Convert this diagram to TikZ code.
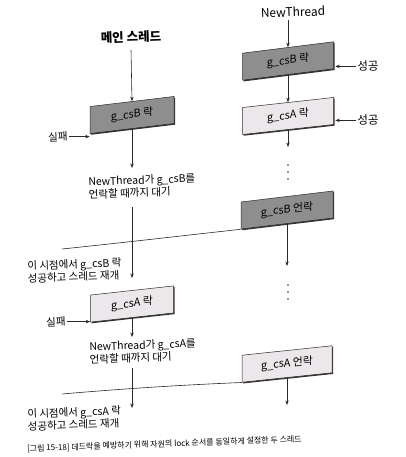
\documentclass[tikz,border=0pt]{standalone}
\usepackage{fontspec}
\setmainfont{Noto Sans CJK KR}
\usetikzlibrary{arrows.meta,shadows}
\definecolor{darkfill}{HTML}{8E8E8E}
\definecolor{lightfill}{HTML}{ECE7EA}
\definecolor{ink}{HTML}{2A2A2A}
\begin{document}
\begin{tikzpicture}[x=1pt,y=1pt,
  line/.style={draw=ink, line width=0.6pt},
  arr/.style={line, -{Stealth[length=4.5pt,width=3.4pt]}},
  lockbox/.style={draw=ink, line width=0.5pt, minimum height=27pt, inner sep=0pt,
     font=\fontsize{10.8}{12}\selectfont, transform shape,
     drop shadow={shadow xshift=1.2pt, shadow yshift=-1.2pt, fill=black!80, opacity=1}},
  darkbox/.style={lockbox, fill=darkfill},
  lightbox/.style={lockbox, fill=lightfill},
  note/.style={font=\fontsize{10.5}{12.5}\selectfont, align=left, inner sep=0pt, anchor=north west, rotate=2},
  side/.style={font=\fontsize{10.5}{12}\selectfont, inner sep=1pt, rotate=2},
  dot/.style={fill=ink},
]
\useasboundingbox (0,0) rectangle (406,-457);
\fill[white] (0,0) rectangle (406,-457);

% titles
\node[font=\fontsize{12.5}{15}\selectfont\bfseries, rotate=2, inner sep=1pt] (main) at (131,-37) {메인 스레드};
\node[font=\fontsize{12}{15}\selectfont, rotate=2, inner sep=1pt] (nt) at (293,-12) {NewThread};

% left boxes
\begin{scope}[shift={(132,-115)}, yslant=0.12]
  \node[darkbox, minimum width=84pt] (lb1) at (0,0) {g\_csB 락};
\end{scope}
\begin{scope}[shift={(132,-304)}, yslant=0.11]
  \node[lightbox, minimum width=83pt] (lb2) at (0,0) {g\_csA 락};
\end{scope}

% right boxes
\begin{scope}[shift={(288,-61)}, yslant=0.125]
  \node[darkbox, minimum width=91pt] (rb1) at (0,0) {g\_csB 락};
\end{scope}
\begin{scope}[shift={(288,-116)}, yslant=0.11]
  \node[lightbox, minimum width=91pt] (rb2) at (0,0) {g\_csA 락};
\end{scope}
\begin{scope}[shift={(287,-210)}, yslant=0.12]
  \node[darkbox, minimum width=92pt] (ru1) at (0,0) {g\_csB 언락};
\end{scope}
\begin{scope}[shift={(287,-364)}, yslant=0.105]
  \node[lightbox, minimum width=90pt] (ru2) at (0,0) {g\_csA 언락};
\end{scope}

% side labels
\node[side] (f1) at (58,-137) {실패};
\node[side] (f2) at (56,-322) {실패};
\node[side, font=\fontsize{11.5}{12}\selectfont] (s1) at (368,-66) {성공};
\node[side, font=\fontsize{11.5}{12}\selectfont] (s2) at (368,-120) {성공};

% notes
\node[note] (w1) at (88,-177) {NewThread가 g\_csB를\\언락할 때까지 대기};
\node[note] (r1) at (27,-261) {이 시점에서 g\_csB 락\\성공하고 스레드 재개};
\node[note] (w2) at (89,-342) {NewThread가 g\_csA를\\언락할 때까지 대기};
\node[note] (r2) at (27,-409) {이 시점에서 g\_csA 락\\성공하고 스레드 재개};

% caption
\node[font=\fontsize{8}{9}\selectfont, anchor=west, inner sep=0pt, rotate=2] (cap) at (27,-449)
  {[그림 15-18] 데드락을 예방하기 위해 자원의 lock 순서를 동일하게 설정한 두 스레드};

% coordinates
\coordinate (m0) at (131,-50);
\coordinate (e1) at (132,-168);
\coordinate (b1) at (132,-207);
\coordinate (e2) at (132,-278);
\coordinate (e3) at (132,-337);
\coordinate (b3) at (132,-368);
\coordinate (e4) at (132,-408);
\coordinate (n0) at (288,-20);
\coordinate (e5) at (288,-147);
\coordinate (e6) at (288,-266);
\coordinate (e7) at (288,-405);
\coordinate (c1) at (62,-249);
\coordinate (c2) at (62,-394);

% left column
\draw[arr] (m0) -- (lb1.north);
\draw[arr] (f1.east) -- (f1.east -| lb1.west);
\draw[arr] (lb1.south) -- (e1);
\draw[arr] (b1) -- (e2);
\draw[arr] (f2.east) -- (f2.east -| lb2.west);
\draw[arr] (lb2.south) -- (e3);
\draw[arr] (b3) -- (e4);

% right column
\draw[arr] (n0) -- (rb1.north);
\draw[arr] (s1.west) -- ([xshift=1.5pt]s1.west -| rb1.east);
\draw[arr] (rb1.south) -- (rb2.north);
\draw[arr] (s2.west) -- ([xshift=1.5pt]s2.west -| rb2.east);
\draw[arr] (rb2.south) -- (e5);
\foreach \y in {-165,-172,-179} \fill[dot] (288,\y) circle (0.9);
\draw[arr] (ru1.south) -- (ru1.south |- e6);
\foreach \y in {-285,-292,-299} \fill[dot] (288,\y) circle (0.9);
\draw[arr] (ru2.south) -- (ru2.south |- e7);

% time lines
\draw[line] (c1) .. controls (120,-243) and (180,-236) .. (ru1.south west);
\draw[line] (c2) .. controls (120,-389) and (180,-385) .. (ru2.south west);
\end{tikzpicture}
\end{document}
